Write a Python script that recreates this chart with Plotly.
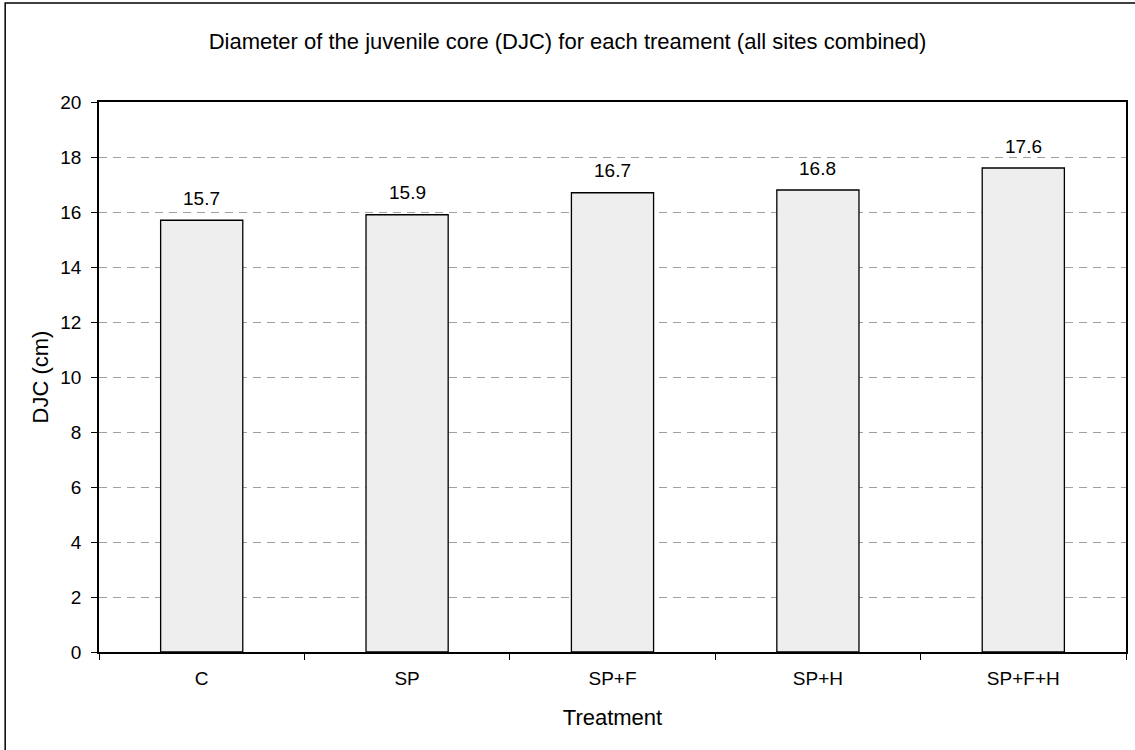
import plotly.graph_objects as go

# Treatment groups and mean diameter of the juvenile core (cm)
treatments = ["C", "SP", "SP+F", "SP+H", "SP+F+H"]
djc_values = [15.7, 15.9, 16.7, 16.8, 17.6]
y_ticks = [0, 2, 4, 6, 8, 10, 12, 14, 16, 18, 20]

font_family = "Liberation Sans, Arial, sans-serif"

fig = go.Figure(
    go.Bar(
        x=treatments,
        y=djc_values,
        width=0.4,
        marker=dict(color="#EEEEEE", line=dict(color="black", width=1.3)),
        hoverinfo="x+y",
    )
)

# Value labels floating above each bar
for cat, val in zip(treatments, djc_values):
    fig.add_annotation(
        x=cat,
        y=val,
        text=f"{val:.1f}",
        showarrow=False,
        yanchor="middle",
        yshift=22,
        font=dict(family=font_family, size=19, color="black"),
    )

fig.update_layout(
    width=1135,
    height=750,
    margin=dict(l=99, r=7, t=102, b=98),
    paper_bgcolor="white",
    plot_bgcolor="white",
    showlegend=False,
    font=dict(family=font_family, size=19, color="black"),
    title=dict(
        text="Diameter of the juvenile core (DJC) for each treament (all sites combined)",
        x=0.5,
        xanchor="center",
        y=1 - 41 / 750,
        yanchor="middle",
        font=dict(family=font_family, size=22, color="black"),
    ),
    xaxis=dict(
        title=dict(text="Treatment", font=dict(size=22), standoff=22),
        showline=True,
        linecolor="black",
        linewidth=1.5,
        mirror=True,
        ticks="outside",
        tickson="boundaries",
        ticklen=6,
        tickcolor="black",
        tickfont=dict(size=19),
        ticklabelstandoff=8,
        showgrid=False,
    ),
    yaxis=dict(
        title=dict(text="DJC (cm)", font=dict(size=22), standoff=6),
        range=[0, 20],
        tickvals=y_ticks,
        showline=True,
        linecolor="black",
        linewidth=1.5,
        mirror=True,
        ticks="outside",
        ticklen=6,
        tickcolor="black",
        tickfont=dict(size=19),
        ticklabelstandoff=6,
        showgrid=True,
        gridcolor="#A0A0A0",
        gridwidth=1,
        griddash="8px,6px",
        zeroline=False,
    ),
    bargap=0.6,
)

# Outer chart frame
fig.add_shape(
    type="rect",
    xref="paper",
    yref="paper",
    x0=-94 / 1029,
    x1=1.02,
    y0=-0.2,
    y1=1 + 99 / 550,
    line=dict(color="black", width=1.5),
    layer="below",
)

fig.write_html("out.html")
